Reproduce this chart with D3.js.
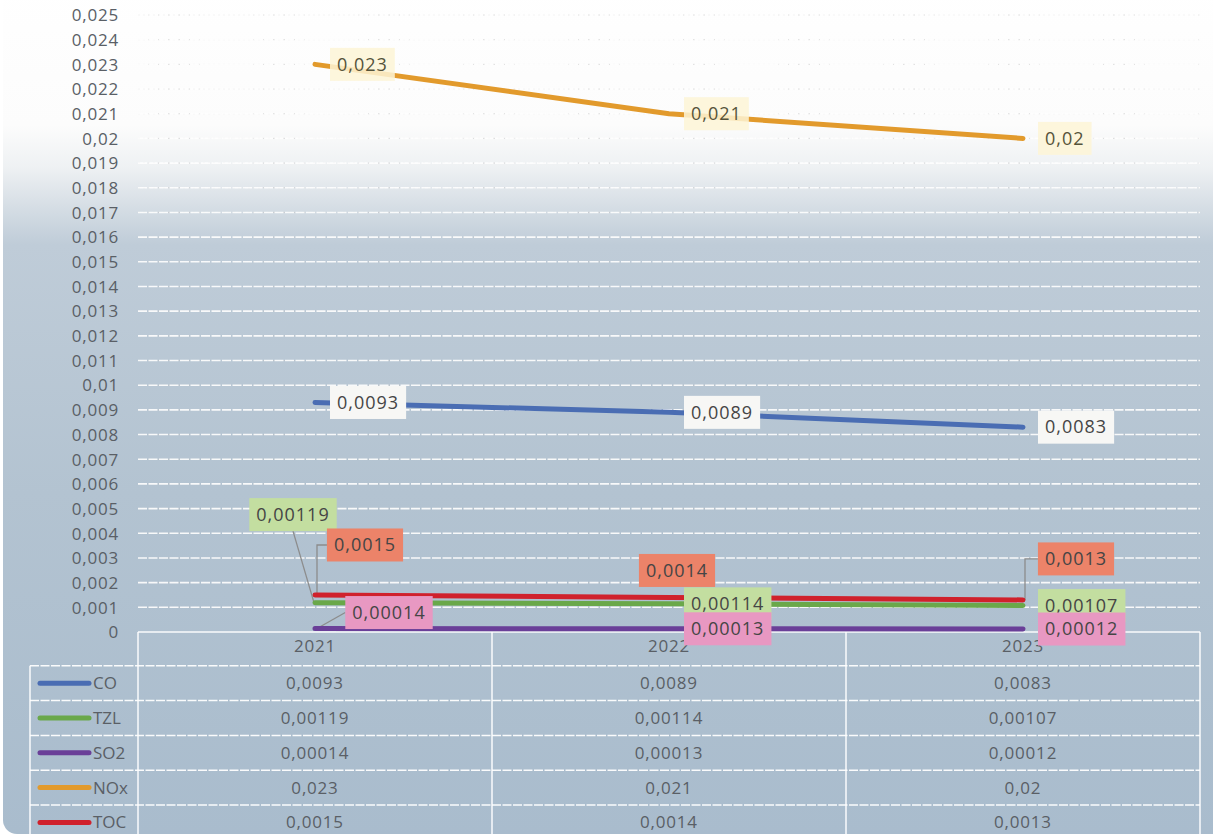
<!DOCTYPE html>
<html>
<head>
<meta charset="utf-8">
<script src="https://cdn.jsdelivr.net/npm/d3@7"></script>
<style>
  html, body { margin: 0; padding: 0; background: #ffffff; }
  svg { display: block; }
  text { font-family: "Open Sans", "Liberation Sans", sans-serif; }
</style>
</head>
<body>
<svg id="chart" width="1213" height="837"></svg>
<script>
// ---------- data ----------
const years = ["2021", "2022", "2023"];
const seriesNames = ["CO", "TZL", "SO2", "NOx", "TOC"];
const CO  = [0.0093, 0.0089, 0.0083];
const TZL = [0.00119, 0.00114, 0.00107];
const SO2 = [0.00014, 0.00013, 0.00012];
const NOx = [0.023, 0.021, 0.02];
const TOC = [0.0015, 0.0014, 0.0013];
const yTickValues = [0,0.001,0.002,0.003,0.004,0.005,0.006,0.007,0.008,0.009,0.01,
  0.011,0.012,0.013,0.014,0.015,0.016,0.017,0.018,0.019,0.02,0.021,0.022,0.023,0.024,0.025];

const seriesValues = { CO, TZL, SO2, NOx, TOC };

// ---------- styles ----------
const lineColor  = { CO: "#4a6db3", TZL: "#6aa84a", SO2: "#6a3f98", NOx: "#e29a2c", TOC: "#d0212c" };
const labelFill  = { CO: "#f7f7f5", TZL: "#c3dea0", SO2: "#e898c2", NOx: "#fdf5d6", TOC: "#ec8369" };
// label placement: default is to the right of the point, vertically centred
// special: offsets of label centre from the point, plus leader style
const labelPlacement = {
  "TZL-0": { dx: -22, dy: -88, leader: "straight" },
  "TOC-0": { dx: 50,  dy: -50, leader: "elbow" },
  "SO2-0": { dx: 74,  dy: -16, leader: "straight" },
  "TOC-1": { dx: 8,   dy: -27, leader: null },
  "TOC-2": { dx: 53,  dy: -41, leader: "elbow" }
};

const W = 1213, H = 837;
const plotLeft = 138, plotRight = 1200, plotTop = 15, plotBottom = 632;
const tableLeft = 30;
const fmt = v => String(v).replace(".", ",");

const svg = d3.select("#chart");

// ---------- background ----------
const defs = svg.append("defs");
const grad = defs.append("linearGradient").attr("id", "bg")
  .attr("x1", 0).attr("y1", 0).attr("x2", 0).attr("y2", 1);
[[0, "#ffffff"], [0.17, "#fcfcfc"], [0.22, "#eef1f3"], [0.265, "#d6dee5"],
 [0.31, "#bfccd8"], [0.6, "#b3c3d1"], [1, "#a9bccd"]]
  .forEach(([o, c]) => grad.append("stop").attr("offset", o).attr("stop-color", c));

svg.append("rect").attr("x", 3).attr("y", -20).attr("width", W + 20).attr("height", H + 17)
  .attr("rx", 14).attr("fill", "url(#bg)");

// ---------- scales ----------
const x = d3.scaleBand().domain(years).range([plotLeft, plotRight]);
const px = i => x(years[i]) + x.bandwidth() / 2;
const y = d3.scaleLinear().domain([0, 0.025]).range([plotBottom, plotTop]);

// ---------- gridlines ----------
const grid = svg.append("g");
yTickValues.filter(v => v > 0).forEach(v => {
  grid.append("line").attr("x1", plotLeft).attr("x2", plotRight)
    .attr("y1", y(v)).attr("y2", y(v))
    .attr("stroke", "#c4c4c4").attr("stroke-width", 1).attr("stroke-dasharray", "2,3").attr("opacity", 0.55);
  grid.append("line").attr("x1", plotLeft).attr("x2", plotRight)
    .attr("y1", y(v)).attr("y2", y(v))
    .attr("stroke", "#ffffff").attr("stroke-width", 1.6).attr("stroke-dasharray", "9,1.5").attr("opacity", 0.9);
});

// ---------- y axis ----------
const yAxis = d3.axisLeft(y).tickValues(yTickValues).tickSize(0).tickPadding(0)
  .tickFormat(v => fmt(+v.toFixed(3)));
const yg = svg.append("g").attr("transform", `translate(119,0)`).call(yAxis);
yg.select(".domain").remove();
yg.selectAll("text").attr("font-size", 17).attr("fill", "#5a5f66")
  .attr("letter-spacing", 0.8).attr("dy", "0.34em");

// ---------- table ----------
const rowKeys = ["header"].concat(seriesNames);
const rowY = d3.scaleBand().domain(rowKeys).range([plotBottom - 1, plotBottom - 1 + 6 * 34.8]);
const tg = svg.append("g");
const white = sel => sel.attr("stroke", "#ffffff").attr("stroke-width", 1.5).attr("opacity", 0.95);

// x axis line
tg.append("line").attr("x1", plotLeft).attr("x2", plotRight).attr("y1", plotBottom).attr("y2", plotBottom)
  .call(white);
// horizontal table lines
seriesNames.forEach(n => {
  tg.append("line").attr("x1", tableLeft).attr("x2", plotRight)
    .attr("y1", rowY(n)).attr("y2", rowY(n))
    .call(white).attr("stroke-dasharray", "9,1.5");
});
// vertical table lines
const vxs = [plotLeft].concat(years.slice(1).map(yr => x(yr))).concat([plotRight]);
vxs.forEach(vx => {
  tg.append("line").attr("x1", vx).attr("x2", vx).attr("y1", plotBottom).attr("y2", H + 10)
    .call(white);
});
tg.append("line").attr("x1", tableLeft).attr("x2", tableLeft).attr("y1", rowY("CO")).attr("y2", H + 10)
  .call(white);

// year headers
years.forEach((yr, i) => {
  tg.append("text").attr("x", px(i)).attr("y", rowY("header") + rowY.bandwidth() / 2 - 2)
    .attr("dy", "0.35em").attr("text-anchor", "middle").attr("font-size", 17)
    .attr("letter-spacing", 0.8).attr("fill", "#5a5f66").text(yr);
});
// rows
seriesNames.forEach(n => {
  const cy = rowY(n) + rowY.bandwidth() / 2;
  tg.append("line").attr("x1", 40).attr("x2", 89).attr("y1", cy).attr("y2", cy)
    .attr("stroke", lineColor[n]).attr("stroke-width", 5).attr("stroke-linecap", "round");
  tg.append("text").attr("x", 93).attr("y", cy).attr("dy", "0.35em").attr("font-size", 17)
    .attr("fill", "#5a5f66").text(n);
  seriesValues[n].forEach((v, i) => {
    tg.append("text").attr("x", px(i)).attr("y", cy).attr("dy", "0.35em")
      .attr("text-anchor", "middle").attr("font-size", 17).attr("letter-spacing", 0.8)
      .attr("fill", "#5a5f66").text(fmt(v));
  });
});

// ---------- leaders, lines, labels ----------
const leaderG = svg.append("g");
const linesG = svg.append("g");
const labelsG = svg.append("g");

const line = d3.line().x((d, i) => px(i)).y(d => y(d));
seriesNames.forEach(n => {
  linesG.append("path").datum(seriesValues[n]).attr("d", line)
    .attr("fill", "none").attr("stroke", lineColor[n]).attr("stroke-width", 5)
    .attr("stroke-linecap", "round").attr("stroke-linejoin", "round");
});

const boxH = 33, padX = 7, gap = 15;
seriesNames.forEach(n => {
  seriesValues[n].forEach((v, i) => {
    const ptx = px(i), pty = y(v);
    const g = labelsG.append("g");
    const rect = g.append("rect").attr("fill", labelFill[n]);
    const t = g.append("text").attr("font-size", 18).attr("letter-spacing", 1)
      .attr("fill", n === "NOx" ? "#55533a" : "#454545").attr("text-anchor", "middle")
      .attr("dy", "0.35em").text(fmt(v));
    const tw = t.node().getComputedTextLength();
    const bw = tw + 2 * padX;
    const pl = labelPlacement[n + "-" + i];
    let cx, cy;
    if (pl) { cx = ptx + pl.dx; cy = pty + pl.dy; }
    else { cx = ptx + gap + bw / 2; cy = pty; }
    t.attr("x", cx).attr("y", cy);
    rect.attr("x", cx - bw / 2).attr("y", cy - boxH / 2).attr("width", bw).attr("height", boxH);
    if (n === "NOx") rect.attr("opacity", 0.85);
    if (pl && pl.leader) {
      let d;
      if (pl.leader === "elbow") {
        d = `M${cx - bw / 2},${cy} H${ptx + 2} V${pty}`;
      } else if (pl.dy < -40) {
        d = `M${cx},${cy + boxH / 2} L${ptx - 1},${pty}`;
      } else {
        d = `M${cx - bw / 2},${cy} L${ptx + 2},${pty}`;
      }
      leaderG.append("path").attr("d", d).attr("fill", "none")
        .attr("stroke", "#8c8c8c").attr("stroke-width", 1.3);
    }
  });
});
</script>
</body>
</html>
